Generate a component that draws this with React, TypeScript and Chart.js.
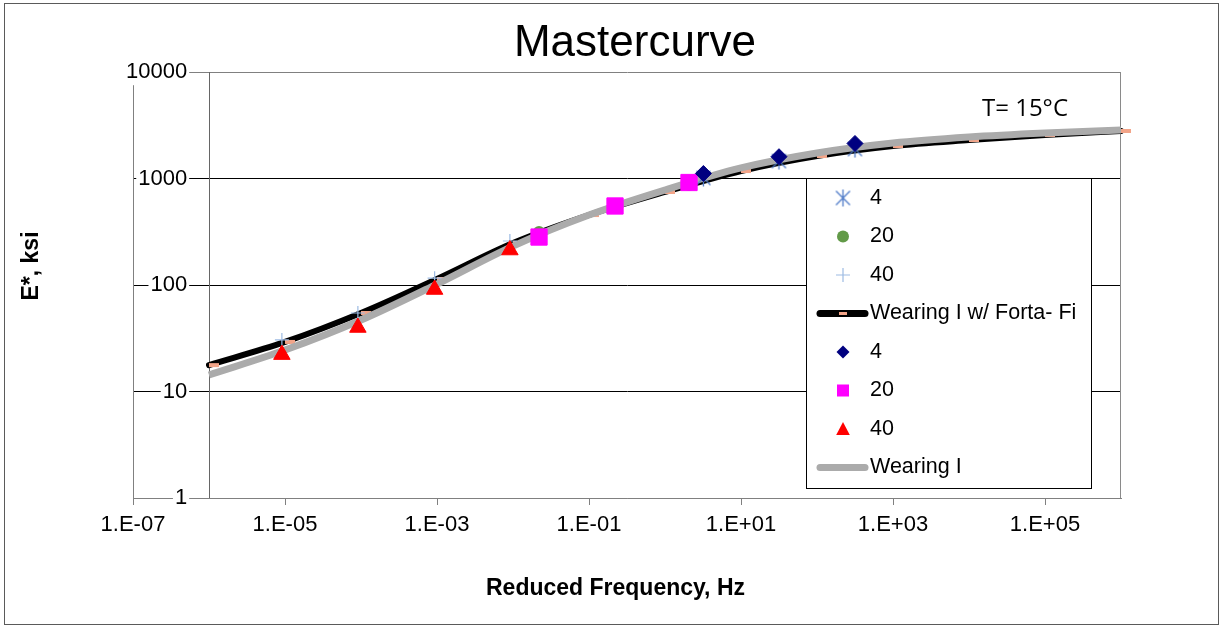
import React, { useEffect, useRef } from 'react';
import { Chart, registerables } from 'chart.js';

Chart.register(...registerables);

// ---------- text ----------
const chartTitle = 'Mastercurve';
const xAxisTitle = 'Reduced Frequency, Hz';
const yAxisTitle = 'E*, ksi';
const tempNote = 'T= 15°C';

// ---------- axes ----------
const xMin = 1e-7;
const xMax = 1e6;
const yMin = 1;
const yMax = 10000;
const plotFrameMin = 1e-6;
const xTickValues = [1e-7, 1e-5, 1e-3, 1e-1, 1e1, 1e3, 1e5];
const xTickLabels = ['1.E-07', '1.E-05', '1.E-03', '1.E-01', '1.E+01', '1.E+03', '1.E+05'];
const yTickValues = [1, 10, 100, 1000, 10000];
const yTickLabels = ['1', '10', '100', '1000', '10000'];

// ---------- fitted master curves ----------
const curveFreq = [1e-6, 1e-5, 1e-4, 1e-3, 1e-2, 1e-1, 1, 10, 100, 1e3, 1e4, 1e5, 1e6];
const fortaFiCurve = [17.7, 29.2, 54.6, 114, 248, 454, 747, 1175, 1626, 2018, 2299, 2560, 2793];
const wearingCurve = [14.3, 24.5, 46.9, 102, 232, 454, 780, 1256, 1735, 2153, 2452, 2675, 2852];

// ---------- measured points ----------
const freq4C = [3.2, 31.6, 316];
const freq20C = [0.022, 0.22, 2.07];
const freq40C = [9.1e-6, 9.1e-5, 9.3e-4, 9.1e-3];

const fortaFi4C = [1011, 1459, 1892];
const fortaFi20C = [315, 540, 869];
const fortaFi40C = [30.5, 54.6, 116, 259];

const wearing4C = [1114, 1602, 2132];
const wearing20C = [282, 552, 917];
const wearing40C = [22.2, 39.9, 90.7, 213];

const FONT = '"Liberation Sans", Arial, Helvetica, sans-serif';

const COLORS = {
  asterisk: '#4F7BC8',
  circle: '#629A48',
  plus: '#9DBBE3',
  black: '#000000',
  dash: '#F2A488',
  diamond: '#000080',
  square: '#FF00FF',
  triangle: '#FF0000',
  gray: '#ABABAB',
};

const toPts = (xs: number[], ys: number[]) => xs.map((x, i) => ({ x, y: ys[i] }));

function makeAsterisk(color: string) {
  const c = document.createElement('canvas');
  c.width = 17;
  c.height = 19;
  const g = c.getContext('2d')!;
  const mx = 8.5;
  const my = 9.5;
  g.strokeStyle = color;
  g.lineWidth = 1.3;
  g.beginPath();
  g.moveTo(mx, my - 8.5);
  g.lineTo(mx, my + 8.5);
  g.moveTo(mx - 7, my - 7);
  g.lineTo(mx + 7, my + 7);
  g.moveTo(mx + 7, my - 7);
  g.lineTo(mx - 7, my + 7);
  g.stroke();
  return c;
}

function makeDash(color: string) {
  const c = document.createElement('canvas');
  c.width = 22;
  c.height = 6;
  const g = c.getContext('2d')!;
  g.fillStyle = color;
  g.fillRect(11, 1, 10, 4);
  return c;
}

const decorPlugin = {
  id: 'decor',
  beforeDraw(chart: any) {
    const { ctx } = chart;
    ctx.save();
    ctx.fillStyle = '#ffffff';
    ctx.fillRect(0, 0, chart.width, chart.height);
    ctx.strokeStyle = '#5a5a5a';
    ctx.lineWidth = 1;
    ctx.strokeRect(4.5, 3.5, 1214, 621);
    ctx.restore();
  },
  beforeDatasetsDraw(chart: any) {
    const { ctx, chartArea } = chart;
    const xs = chart.scales.x;
    const fx = Math.round(xs.getPixelForValue(plotFrameMin)) + 0.5;
    const rx = Math.round(xs.getPixelForValue(xMax)) + 0.5;
    ctx.save();
    ctx.lineWidth = 1;
    ctx.strokeStyle = '#666666';
    ctx.beginPath();
    ctx.moveTo(fx, chartArea.top);
    ctx.lineTo(fx, chartArea.bottom);
    ctx.stroke();
    ctx.strokeStyle = '#8a8a8a';
    ctx.beginPath();
    ctx.moveTo(rx - 1, chartArea.top);
    ctx.lineTo(rx - 1, chartArea.bottom);
    ctx.stroke();
    ctx.restore();
  },
  afterDraw(chart: any) {
    const { ctx } = chart;
    ctx.save();
    ctx.fillStyle = '#000';
    // title
    ctx.font = `44px ${FONT}`;
    ctx.textAlign = 'center';
    ctx.textBaseline = 'alphabetic';
    ctx.fillText(chartTitle, 635, 56);
    // x title
    ctx.font = `bold 23px ${FONT}`;
    ctx.fillText(xAxisTitle, 615.5, 595);
    // y title
    ctx.save();
    ctx.translate(38, 266);
    ctx.rotate(-Math.PI / 2);
    ctx.fillText(yAxisTitle, 0, 0);
    ctx.restore();
    // temperature note
    ctx.font = '24px "Open Sans", "Noto Sans", sans-serif';
    ctx.textAlign = 'left';
    ctx.fillText(tempNote, 982, 116);
    ctx.restore();

    // legend box
    const box = { l: 806.5, t: 178.5, r: 1091.5, b: 488.5 };
    ctx.save();
    ctx.fillStyle = '#ffffff';
    ctx.fillRect(box.l, box.t, box.r - box.l, box.b - box.t);
    ctx.strokeStyle = '#000000';
    ctx.lineWidth = 1;
    ctx.strokeRect(box.l, box.t, box.r - box.l, box.b - box.t);
    const sx = 843;
    chart.data.datasets.forEach((ds: any, i: number) => {
      const cy = 198 + i * 38.5;
      const kind = ds.legendSymbol;
      ctx.save();
      if (kind === 'asterisk') {
        const img = ds.pointStyle;
        ctx.drawImage(img, sx - img.width / 2, cy - img.height / 2);
      } else if (kind === 'circle') {
        ctx.fillStyle = COLORS.circle;
        ctx.beginPath();
        ctx.arc(sx, cy, 6, 0, Math.PI * 2);
        ctx.fill();
      } else if (kind === 'plus') {
        ctx.strokeStyle = COLORS.plus;
        ctx.lineWidth = 1.2;
        ctx.beginPath();
        ctx.moveTo(sx - 7, cy);
        ctx.lineTo(sx + 7, cy);
        ctx.moveTo(sx, cy - 7);
        ctx.lineTo(sx, cy + 7);
        ctx.stroke();
      } else if (kind === 'blackLine' || kind === 'grayLine') {
        ctx.strokeStyle = kind === 'blackLine' ? COLORS.black : COLORS.gray;
        ctx.lineWidth = 7;
        ctx.lineCap = 'round';
        ctx.beginPath();
        ctx.moveTo(820, cy);
        ctx.lineTo(865, cy);
        ctx.stroke();
        if (kind === 'blackLine') {
          ctx.fillStyle = COLORS.dash;
          ctx.fillRect(839, cy - 1.5, 8, 3);
        }
      } else if (kind === 'diamond') {
        ctx.fillStyle = COLORS.diamond;
        ctx.beginPath();
        ctx.moveTo(sx, cy - 6.5);
        ctx.lineTo(sx + 6.5, cy);
        ctx.lineTo(sx, cy + 6.5);
        ctx.lineTo(sx - 6.5, cy);
        ctx.closePath();
        ctx.fill();
      } else if (kind === 'square') {
        ctx.fillStyle = COLORS.square;
        ctx.fillRect(sx - 6, cy - 6, 12, 12);
      } else if (kind === 'triangle') {
        ctx.fillStyle = COLORS.triangle;
        ctx.beginPath();
        ctx.moveTo(sx, cy - 7);
        ctx.lineTo(sx + 6.8, cy + 6);
        ctx.lineTo(sx - 6.8, cy + 6);
        ctx.closePath();
        ctx.fill();
      }
      ctx.restore();
      ctx.fillStyle = '#000';
      ctx.font = `21.5px ${FONT}`;
      ctx.textAlign = 'left';
      ctx.textBaseline = 'middle';
      ctx.fillText(ds.label, 870, cy);
    });
    ctx.restore();
  },
};

export default function App() {
  const ref = useRef<HTMLCanvasElement>(null);

  useEffect(() => {
    const canvas = ref.current;
    if (!canvas) return;
    const asteriskImg = makeAsterisk(COLORS.asterisk);
    const dashImg = makeDash(COLORS.dash);

    const chart = new Chart(canvas, {
      type: 'scatter',
      data: {
        datasets: [
          {
            label: '4',
            data: toPts(freq4C, fortaFi4C),
            pointStyle: asteriskImg,
            pointRadius: 8,
            showLine: false,
            order: 1,
            legendSymbol: 'asterisk',
          } as any,
          {
            label: '20',
            data: toPts(freq20C, fortaFi20C),
            pointStyle: 'circle',
            pointRadius: 6,
            backgroundColor: COLORS.circle,
            borderColor: COLORS.circle,
            borderWidth: 0,
            order: 1,
            legendSymbol: 'circle',
          },
          {
            label: '40',
            data: toPts(freq40C, fortaFi40C),
            pointStyle: 'cross',
            pointRadius: 7,
            backgroundColor: COLORS.plus,
            borderColor: COLORS.plus,
            borderWidth: 1.2,
            order: 1,
            legendSymbol: 'plus',
          },
          {
            label: 'Wearing I w/ Forta- Fi',
            data: toPts(curveFreq, fortaFiCurve),
            showLine: true,
            borderColor: COLORS.black,
            backgroundColor: COLORS.black,
            borderWidth: 6,
            borderCapStyle: 'round',
            borderJoinStyle: 'round',
            cubicInterpolationMode: 'monotone',
            pointStyle: dashImg,
            pointRadius: 5,
            clip: false,
            order: 3,
            legendSymbol: 'blackLine',
          },
          {
            label: '4',
            data: toPts(freq4C, wearing4C),
            pointStyle: 'rectRot',
            pointRadius: 8,
            backgroundColor: COLORS.diamond,
            borderColor: COLORS.diamond,
            borderWidth: 1,
            order: 0,
            legendSymbol: 'diamond',
          },
          {
            label: '20',
            data: toPts(freq20C, wearing20C),
            pointStyle: 'rect',
            pointRadius: 11.5,
            backgroundColor: COLORS.square,
            borderColor: COLORS.square,
            borderWidth: 1,
            order: 0,
            legendSymbol: 'square',
          },
          {
            label: '40',
            data: toPts(freq40C, wearing40C),
            pointStyle: 'triangle',
            pointRadius: 9.5,
            backgroundColor: COLORS.triangle,
            borderColor: COLORS.triangle,
            borderWidth: 1,
            order: 0,
            legendSymbol: 'triangle',
          },
          {
            label: 'Wearing I',
            data: toPts(curveFreq, wearingCurve),
            showLine: true,
            borderColor: COLORS.gray,
            backgroundColor: COLORS.gray,
            borderWidth: 7,
            borderCapStyle: 'butt',
            borderJoinStyle: 'round',
            cubicInterpolationMode: 'monotone',
            pointRadius: 0,
            order: 2,
            legendSymbol: 'grayLine',
          },
        ] as any,
      },
      options: {
        animation: false,
        responsive: false,
        devicePixelRatio: 1,
        events: [],
        layout: { padding: { left: 0, top: 72, right: 104, bottom: 69 } },
        plugins: {
          legend: { display: false },
          tooltip: { enabled: false },
          title: { display: false },
        },
        scales: {
          x: {
            type: 'logarithmic',
            position: 'bottom',
            min: xMin,
            max: xMax,
            afterBuildTicks: (s: any) => {
              s.ticks = xTickValues.map((v) => ({ value: v }));
            },
            afterFit: (s: any) => {
              s.height = 60;
            },
            ticks: {
              autoSkip: false,
              maxRotation: 0,
              minRotation: 0,
              padding: 7,
              color: '#000',
              font: { family: FONT, size: 22 },
              callback: (_v: any, i: number) => xTickLabels[i],
            },
            grid: {
              drawOnChartArea: false,
              drawTicks: true,
              tickLength: 7,
              color: '#808080',
            },
            border: { display: true, color: '#808080', width: 1 },
          },
          y: {
            type: 'logarithmic',
            position: 'left',
            min: yMin,
            max: yMax,
            afterBuildTicks: (s: any) => {
              s.ticks = yTickValues.map((v) => ({ value: v }));
            },
            afterFit: (s: any) => {
              s.width = 133;
            },
            ticks: {
              mirror: true,
              crossAlign: 'far',
              padding: -7,
              z: 1,
              showLabelBackdrop: true,
              backdropColor: '#ffffff',
              backdropPadding: { top: 0, bottom: 0, left: 2, right: 2 },
              color: '#000',
              font: { family: FONT, size: 22 },
              callback: (_v: any, i: number) => yTickLabels[i],
            },
            grid: {
              drawTicks: false,
              lineWidth: 1,
              color: (c: any) =>
                c.tick && (c.tick.value === yMin || c.tick.value === yMax) ? '#808080' : '#000000',
            },
            border: { display: true, color: '#808080', width: 1 },
          },
        },
      } as any,
      plugins: [decorPlugin],
    });
    return () => chart.destroy();
  }, []);

  return (
    <div style={{ position: 'fixed', left: 0, top: 0, width: 1225, height: 627, background: '#fff' }}>
      <canvas ref={ref} width={1225} height={627} style={{ display: 'block', width: 1225, height: 627 }} />
    </div>
  );
}
